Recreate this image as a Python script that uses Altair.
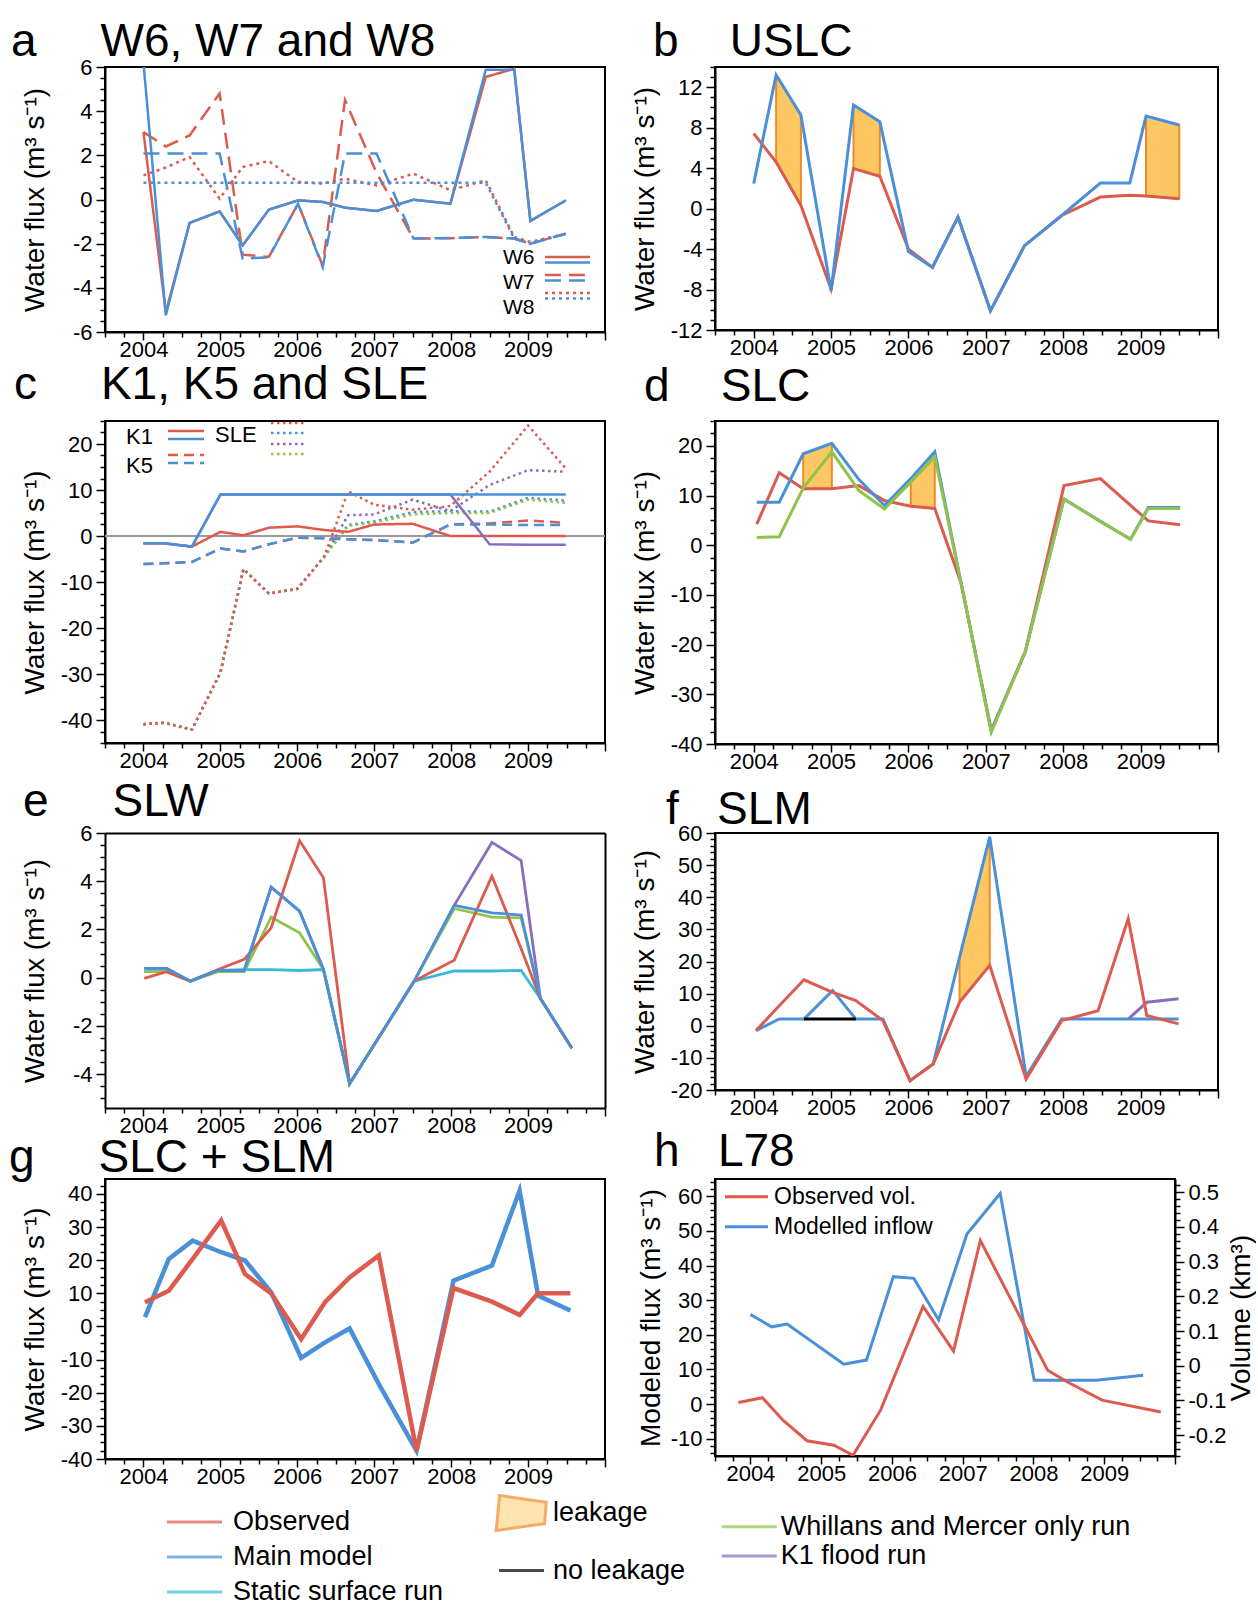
import math
import altair as alt
import pandas as pd

FONT = "Liberation Sans"
RED = "#dd5a4f"
BLUE = "#4a90d8"
GREEN = "#8fc34a"
PURPLE = "#8a6cbf"
CYAN = "#38b9d9"
LEAK_FILL = "#fdc763"
LEAK_STROKE = "#f08a24"
NB = "\u00a0"
WF = "Water flux (m\u00b3 s\u207b\u00b9)"

# ---------------- data ----------------
# a  W6, W7, W8
a_t = [2004.0, 2004.29, 2004.6, 2004.99, 2005.29, 2005.63, 2006.01, 2006.33, 2006.62, 2007.03, 2007.51, 2007.99, 2008.45, 2008.82, 2009.03, 2009.49]
a_w6_obs = [3.05, -5.1, -1.06, -0.54, -2.08, -0.46, -0.04, -0.11, -0.37, -0.52, -0.01, -0.19, 5.55, 5.92, -0.97, -0.04]
a_w6_mod = [6.2, -5.25, -1.06, -0.54, -2.08, -0.46, -0.04, -0.11, -0.37, -0.52, -0.01, -0.19, 5.88, 5.88, -0.97, -0.04]
a_w7_obs = [3.05, 2.4, 2.9, 4.8, -2.5, -2.6, -0.19, -3.0, 4.5, 1.2, -1.77, -1.75, -1.7, -1.77, -2.0, -1.55]
a_w7_mod = [2.08, 2.08, 2.08, 2.08, -2.68, -2.62, -0.19, -3.06, 2.08, 2.08, -1.77, -1.74, -1.7, -1.77, -2.0, -1.55]
a_w8_obs = [1.09, 1.45, 1.92, 0.04, 1.47, 1.74, 0.79, 0.72, 0.94, 0.64, 1.17, 0.42, 0.87, -1.7, -1.92, -1.55]
a_w8_mod = [0.76, 0.76, 0.76, 0.76, 0.76, 0.76, 0.76, 0.76, 0.76, 0.76, 0.76, 0.76, 0.76, -1.77, -2.0, -1.55]
a_sites = ["W6", "W7", "W8"]

# b  USLC
b_t = [2004.0, 2004.29, 2004.61, 2005.0, 2005.29, 2005.63, 2006.0, 2006.31, 2006.64, 2007.06, 2007.5, 2007.98, 2008.48, 2008.86, 2009.07, 2009.5]
b_mod = [2.47, 13.22, 9.25, -8.13, 10.25, 8.59, -4.25, -5.81, -0.84, -10.1, -3.66, -0.68, 2.53, 2.53, 9.15, 8.26]
b_obs = [7.43, 4.6, 0.31, -7.96, 3.96, 3.2, -4.0, -5.81, -0.84, -10.1, -3.66, -0.68, 1.14, 1.31, 1.24, 0.98]
b_leak = [(1, 2), (4, 5), (14, 15)]

# c  K1, K5, SLE
c_t = [2004.0, 2004.27, 2004.63, 2005.0, 2005.3, 2005.63, 2006.0, 2006.35, 2006.66, 2007.0, 2007.5, 2007.99, 2008.5, 2009.0, 2009.49]
c_k1_mod = [-1.6, -1.6, -2.3, 9.0, 9.0, 9.0, 9.0, 9.0, 9.0, 9.0, 9.0, 9.0, 9.0, 9.0, 9.0]
c_k1_obs = [-1.6, -1.6, -2.3, 0.9, 0.15, 1.8, 2.1, 1.3, 0.9, 2.5, 2.65, 0.0, 0.0, 0.0, 0.0]
c_k1_flood = [-1.6, -1.6, -2.3, 9.0, 9.0, 9.0, 9.0, 9.0, 9.0, 9.0, 9.0, 9.0, -1.8, -1.9, -1.9]
c_k5_mod = [-6.1, -5.95, -5.66, -2.72, -3.37, -1.79, -0.36, -0.5, -0.72, -0.86, -1.43, 2.51, 2.51, 2.37, 2.37]
c_k5_obs = [-6.1, -5.95, -5.66, -2.72, -3.37, -1.79, -0.36, -0.5, -0.72, -0.86, -1.43, 2.51, 2.72, 3.37, 2.87]
c_sle_obs = [-40.9, -40.6, -42.1, -29.7, -7.2, -12.5, -11.5, -4.5, 9.7, 6.8, 5.7, 6.5, 14.0, 24.0, 14.7]
c_sle_mod = [-40.9, -40.6, -42.1, -29.7, -7.2, -12.5, -11.5, -4.5, 2.4, 3.2, 5.2, 5.4, 5.3, 8.3, 7.7]
c_sle_wm = [-40.9, -40.6, -42.1, -29.7, -7.2, -12.5, -11.5, -4.5, 2.2, 2.9, 4.7, 5.0, 5.0, 7.9, 7.2]
c_sle_flood = [-40.9, -40.6, -42.1, -29.7, -7.2, -12.5, -11.5, -4.5, 4.5, 4.7, 7.9, 5.4, 11.1, 14.3, 14.0]
c_glaciers = ["K1", "K5"]
c_lake = ["SLE"]

# d  SLC
d_t = [2004.04, 2004.33, 2004.64, 2005.01, 2005.36, 2005.69, 2006.03, 2006.34, 2006.68, 2007.07, 2007.51, 2008.01, 2008.48, 2008.87, 2009.1, 2009.51]
d_mod = [8.65, 8.65, 18.4, 20.5, 13.2, 8.0, 13.4, 18.8, -7.6, -37.3, -21.4, 9.3, 4.8, 1.2, 7.6, 7.6]
d_wm = [1.55, 1.7, 11.5, 18.8, 11.0, 7.3, 12.7, 17.8, -7.6, -37.6, -21.4, 9.3, 4.8, 1.2, 7.4, 7.4]
d_obs = [4.25, 14.6, 11.35, 11.35, 12.0, 9.0, 7.85, 7.4, -7.6, -37.3, -21.4, 12.0, 13.4, 8.0, 4.9, 4.1]
d_leak = [(2, 3), (6, 7)]

# e  SLW
e_t = [2004.01, 2004.3, 2004.61, 2004.97, 2005.31, 2005.66, 2006.03, 2006.34, 2006.68, 2007.52, 2008.04, 2008.53, 2008.91, 2009.16, 2009.57]
e_obs = [-0.03, 0.25, -0.14, 0.34, 0.76, 2.07, 5.68, 4.14, -4.39, -0.14, 0.73, 4.21, 1.2, -0.86, -2.92]
e_mod = [0.39, 0.39, -0.14, 0.3, 0.3, 3.75, 2.76, 0.34, -4.39, -0.14, 3.0, 2.69, 2.6, -0.86, -2.92]
e_wm = [0.25, 0.25, -0.14, 0.25, 0.25, 2.51, 1.86, 0.34, -4.39, -0.14, 2.87, 2.51, 2.48, -0.86, -2.92]
e_static = [0.25, 0.25, -0.14, 0.3, 0.34, 0.34, 0.3, 0.34, -4.39, -0.14, 0.28, 0.28, 0.3, -0.86, -2.92]
e_flood = [0.39, 0.39, -0.14, 0.3, 0.3, 3.75, 2.76, 0.34, -4.39, -0.14, 3.0, 5.61, 4.86, -0.86, -2.92]

# f  SLM
f_t = [2004.03, 2004.33, 2004.65, 2005.02, 2005.32, 2005.67, 2006.02, 2006.32, 2006.66, 2007.05, 2007.52, 2007.98, 2008.45, 2008.84, 2009.08, 2009.49]
f_mod = [-1.5, 2.1, 2.1, 11.0, 2.1, 2.1, -17.1, -11.9, 21.3, 58.8, -15.8, 2.1, 2.1, 2.1, 2.1, 2.1]
f_obs = [-1.5, 6.2, 14.3, 10.4, 7.85, 1.6, -17.1, -11.9, 7.3, 18.8, -16.6, 1.6, 4.7, 33.3, 3.2, 0.57]
f_noleak_t = [2004.65, 2005.02, 2005.32]
f_noleak = [2.1, 2.1, 2.1]
f_flood_t = [2008.84, 2009.08, 2009.49]
f_flood = [2.1, 7.3, 8.4]
f_leak = [(8, 9)]

# g  SLC + SLM
g_t = [2004.02, 2004.33, 2004.64, 2005.01, 2005.32, 2005.66, 2006.05, 2006.36, 2006.68, 2007.06, 2007.55, 2008.03, 2008.53, 2008.89, 2009.13, 2009.55]
g_mod = [2.8, 20.4, 25.9, 22.4, 19.9, 10.3, -9.5, -4.8, -0.6, -17.4, -37.5, 13.8, 18.4, 41.0, 9.3, 4.8]
g_obs = [7.3, 10.8, 20.4, 32.0, 15.8, 10.0, -3.8, 7.3, 14.8, 21.4, -37.5, 11.6, 7.5, 3.5, 10.0, 10.0]

# h  L78
h_mod_t = [2004.0, 2004.3, 2004.52, 2005.32, 2005.64, 2006.02, 2006.31, 2006.66, 2007.06, 2007.53, 2008.01, 2008.48, 2008.89, 2009.55]
h_mod = [25.9, 22.3, 23.1, 11.5, 12.7, 36.8, 36.3, 24.3, 49.1, 60.8, 6.9, 6.9, 6.9, 8.3]
h_obs_t = [2003.83, 2004.17, 2004.46, 2004.8, 2005.18, 2005.45, 2005.84, 2006.44, 2006.87, 2007.25, 2008.2, 2008.48, 2008.97, 2009.8]
h_obs = [-0.106, -0.092, -0.157, -0.216, -0.229, -0.258, -0.128, 0.171, 0.042, 0.361, -0.013, -0.047, -0.099, -0.133]
h_series = ["Observed vol.", "Modelled inflow"]

# bottom legend
LEG1 = ["Observed", "Main model", "Static surface run"]
LEG1_COL = [RED, BLUE, CYAN]
LEG2 = ["leakage", "no leakage"]
LEG3 = ["Whillans and Mercer only run", "K1 flood run"]
LEG3_COL = [GREEN, PURPLE]

TITLES = {
    "a": ("a" + NB * 5 + "W6, W7 and W8", -94, -9.5),
    "b": ("b" + NB * 4 + "USLC", -62, -9.5),
    "c": ("c" + NB * 5 + "K1, K5 and SLE", -91, 1.5),
    "d": ("d" + NB * 4 + "SLC", -71, -1),
    "e": ("e" + NB * 5 + "SLW", -82, -4),
    "f": ("f" + NB * 3 + "SLM", -49, -11.5),
    "g": ("g" + NB * 5 + "SLC + SLM", -96, -7),
    "h": ("h" + NB * 3 + "L78", -61, -4.5),
}

# ---------------- helpers ----------------
XDOM = [2003.5, 2010.0]
X_TICKS = [round(2003.5 + 0.25 * i, 2) for i in range(27)]
LINE_PATH = "M-2,0H2"


def x_axis(offset=0):
    return alt.Axis(values=X_TICKS, title=None, grid=False, offset=offset,
                    labelExpr="(datum.value % 1 == 0 && datum.value >= 2004 && datum.value <= 2009) ? ('' + datum.value) : ''",
                    tickSize={"condition": {"test": "datum.value % 1 == 0", "value": 8}, "value": 5},
                    labelOverlap=False, labelFlush=False, labelPadding=-1)


def x_enc(axis="default"):
    ax = x_axis() if axis == "default" else axis
    return alt.X("t:Q", scale=alt.Scale(domain=XDOM, nice=False, zero=False), axis=ax)


def y_axis(lo, hi, major, minor, title, height, orient="left", title_x=-70):
    vals = []
    k = math.ceil(lo / minor - 1e-9)
    while k * minor <= hi + 1e-9:
        vals.append(round(k * minor, 4))
        k += 1
    test = f"abs(round(datum.value / {major}) * {major} - datum.value) < 1e-6"
    return alt.Axis(values=vals, title=title, orient=orient, grid=False,
                    labelExpr=f"({test}) ? ('' + datum.value) : ''",
                    tickSize={"condition": {"test": test, "value": 9}, "value": 5},
                    labelOverlap=False, labelFlush=False, labelPadding=4,
                    titleX=title_x, titleY=height / 2, titleAngle=270,
                    titleBaseline="middle", titleAlign="center")


def make_y(dom, axis, rng=None):
    def f(field, ax="default"):
        sc = alt.Scale(domain=dom, nice=False, zero=False)
        if rng is not None:
            sc = alt.Scale(domain=dom, nice=False, zero=False, range=rng)
        return alt.Y(f"{field}:Q", scale=sc, axis=axis if ax == "default" else ax)
    return f


def line(t, v, color, sw, yf, dash=None, clip=True):
    kw = dict(color=color, strokeWidth=sw, clip=clip)
    if dash is not None:
        kw["strokeDash"] = dash
    return alt.Chart(pd.DataFrame({"t": t, "v": v})).mark_line(**kw).encode(x=x_enc(), y=yf("v"))


def long_df(t, series):
    rows = []
    for name, vals in series.items():
        for ti, vi in zip(t, vals):
            rows.append({"t": ti, "v": vi, "site": name})
    return pd.DataFrame(rows)


def leak(t, top, bot, segs, yf):
    rows = []
    for k, (i0, i1) in enumerate(segs):
        for i in range(i0, i1 + 1):
            rows.append({"t": t[i], "top": top[i], "bot": bot[i], "seg": k})
    return alt.Chart(pd.DataFrame(rows)).mark_area(
        fill=LEAK_FILL, stroke=LEAK_STROKE, strokeWidth=2, opacity=1, clip=True
    ).encode(x=x_enc(), y=yf("top"), y2="bot:Q", detail="seg:N")


def title_params(key):
    txt, dx, off = TITLES[key]
    return alt.TitleParams(text=txt, anchor="start", frame="group", dx=dx, offset=off,
                           fontSize=46, font=FONT, fontWeight="normal", color="black")


def finish(layers, w, h, key):
    return alt.layer(*layers).properties(width=w, height=h, title=title_params(key))


def dash_lines(df, color, sw, yf, domain, dashes, legend):
    return alt.Chart(df).mark_line(color=color, strokeWidth=sw, clip=True).encode(
        x=x_enc(), y=yf("v"),
        strokeDash=alt.StrokeDash("site:N", scale=alt.Scale(domain=domain, range=dashes), legend=legend))


def label_legend(domain, lx, ly, size, rowpad):
    # legend showing only the names (symbols hidden), placed left of the swatches
    return alt.Chart(alt.Data(values=[])).mark_point().encode(
        strokeDash=alt.StrokeDash("site:N", scale=alt.Scale(domain=domain),
                                  legend=alt.Legend(orient="none", title=None, legendX=lx, legendY=ly,
                                                    symbolSize=1, symbolOpacity=0, symbolOffset=0,
                                                    labelOffset=0, labelFontSize=size, labelFont=FONT,
                                                    labelColor="black", rowPadding=rowpad, padding=0)))


def swatch_legend(lx, ly, color, sym_size, sw, rowpad):
    return alt.Legend(orient="none", title=None, legendX=lx, legendY=ly, symbolType=LINE_PATH,
                      symbolSize=sym_size, symbolStrokeWidth=sw, symbolStrokeColor=color,
                      symbolOffset=0, labelExpr="''", labelFontSize=1, rowPadding=rowpad, padding=0)


LW, RW = 500, 503

# ---------------- panel a ----------------
a_h = 265
a_y = make_y([-6, 6], y_axis(-6, 6, 2, 0.5, WF, a_h))
a_dash = [[1, 0], [16, 8], [3, 4]]
a_red = dash_lines(long_df(a_t, {"W6": a_w6_obs, "W7": a_w7_obs, "W8": a_w8_obs}), RED, 2.5, a_y,
                   a_sites, a_dash, swatch_legend(450, 177.5, RED, 506, 2.5, 0))
a_blue = dash_lines(long_df(a_t, {"W6": a_w6_mod, "W7": a_w7_mod, "W8": a_w8_mod}), BLUE, 2.5, a_y,
                    a_sites, a_dash, swatch_legend(450, 183, BLUE, 506, 2.5, 0))
a_names = label_legend(a_sites, 377, 180.5, 21, 3)
pa = finish([a_red, a_blue, a_names], LW, a_h, "a").resolve_scale(strokeDash="independent")

# ---------------- panel b ----------------
b_h = 263
b_y = make_y([-12, 14], y_axis(-12, 14, 4, 1, WF, b_h))
pb = finish([leak(b_t, b_mod, b_obs, b_leak, b_y),
             line(b_t, b_obs, RED, 3, b_y),
             line(b_t, b_mod, BLUE, 3, b_y)], RW, b_h, "b")

# ---------------- panel c ----------------
c_h = 322
c_y = make_y([-45, 25], y_axis(-45, 25, 10, 2.5, WF, c_h))
DOT = [[2.5, 3.5]]
GL_DASH = [[1, 0], [10, 6]]
zero = alt.Chart(pd.DataFrame({"v": [0]})).mark_rule(color="#9a9a9a", strokeWidth=2).encode(y=c_y("v"))
c_layers = [
    zero,
    dash_lines(long_df(c_t, {"SLE": c_sle_flood}), PURPLE, 2.5, c_y, c_lake, DOT,
               swatch_legend(173.5, 12.5, PURPLE, 324, 2.5, 0)),
    dash_lines(long_df(c_t, {"SLE": c_sle_mod}), BLUE, 2.5, c_y, c_lake, DOT,
               swatch_legend(173.5, 1.5, BLUE, 324, 2.5, 0)),
    dash_lines(long_df(c_t, {"SLE": c_sle_wm}), GREEN, 2.5, c_y, c_lake, DOT,
               swatch_legend(173.5, 22.5, GREEN, 324, 2.5, 0)),
    dash_lines(long_df(c_t, {"SLE": c_sle_obs}), RED, 2.5, c_y, c_lake, DOT,
               swatch_legend(173.5, -8.5, RED, 324, 2.5, 0)),
    dash_lines(long_df(c_t, {"K1": c_k1_obs, "K5": c_k5_obs}), RED, 2.5, c_y, c_glaciers, GL_DASH,
               swatch_legend(70.5, -0.5, RED, 324, 2.5, 8)),
    line(c_t, c_k1_flood, PURPLE, 2.5, c_y),
    dash_lines(long_df(c_t, {"K1": c_k1_mod, "K5": c_k5_mod}), BLUE, 2.5, c_y, c_glaciers, GL_DASH,
               swatch_legend(70.5, 7.5, BLUE, 324, 2.5, 8)),
    label_legend(c_glaciers, -1, 5, 22, 7),
    label_legend(c_lake, 88, 3, 22, 7),
]
pc = finish(c_layers, LW, c_h, "c").resolve_scale(strokeDash="independent")

# ---------------- panel d ----------------
d_h = 323
d_y = make_y([-40, 25], y_axis(-40, 25, 10, 2.5, WF, d_h))
pd_ = finish([leak(d_t, d_mod, d_obs, d_leak, d_y),
              line(d_t, d_obs, RED, 3, d_y),
              line(d_t, d_mod, BLUE, 3, d_y),
              line(d_t, d_wm, GREEN, 3, d_y)], RW, d_h, "d")

# ---------------- panel e (plot drawn 275 px tall inside a 257 px grid cell) ----------------
e_cell = 257
e_plot = 275
e_y = make_y([-5.4, 6], y_axis(-5.4, 6, 2, 0.5, WF, e_plot), rng=[e_plot, 0])
frame_axis_x = alt.Axis(orient="top", labels=False, ticks=False, domain=True, title=None, grid=False)
frame_axis_y = alt.Axis(orient="right", labels=False, ticks=False, domain=True, title=None, grid=False)


def e_line(v, color, first=False):
    enc_x = x_enc(x_axis(offset=e_plot - e_cell)) if first else x_enc(None)
    enc_y = e_y("v") if first else e_y("v", None)
    return alt.Chart(pd.DataFrame({"t": e_t, "v": v})).mark_line(
        color=color, strokeWidth=2.8, clip=False).encode(x=enc_x, y=enc_y)


e_frame = alt.Chart(alt.Data(values=[])).mark_point().encode(
    x=x_enc(frame_axis_x), y=e_y("v", frame_axis_y))
pe = alt.layer(
    e_line(e_flood, PURPLE, first=True),
    e_line(e_static, CYAN),
    e_line(e_wm, GREEN),
    e_line(e_obs, RED),
    e_line(e_mod, BLUE),
    e_frame,
).resolve_axis(x="independent", y="independent").properties(
    width=LW, height=e_cell, title=title_params("e"),
    view=alt.ViewBackground(stroke="transparent"))

# ---------------- panel f ----------------
f_h = 257
f_y = make_y([-20, 60], y_axis(-20, 60, 10, 2, WF, f_h))
pf = finish([leak(f_t, f_mod, f_obs, f_leak, f_y),
             line(f_t, f_mod, BLUE, 3, f_y),
             line(f_noleak_t, f_noleak, "black", 3, f_y),
             line(f_flood_t, f_flood, PURPLE, 3, f_y),
             line(f_t, f_obs, RED, 3, f_y)], RW, f_h, "f")

# ---------------- panel g (with bottom legend) ----------------
g_h = 280
g_y = make_y([-40, 44.5], y_axis(-40, 44.5, 10, 2.5, WF, g_h))
leg_base = dict(orient="none", title=None, labelFontSize=27, labelFont=FONT, labelColor="black",
                labelLimit=600, padding=0, symbolStrokeWidth=3)
empty = alt.Data(values=[])
leg1 = alt.Chart(empty).mark_point(shape=LINE_PATH, filled=False, strokeWidth=3, size=756).encode(
    stroke=alt.Stroke("entry:N", scale=alt.Scale(domain=LEG1, range=LEG1_COL),
                      legend=alt.Legend(legendX=62, legendY=327.5, symbolType=LINE_PATH, symbolSize=756,
                                        symbolOffset=12, labelOffset=23, rowPadding=6, **leg_base)))
POLY = "M-1.95,-1.55L2.2,-0.95L2.05,0.95L-2.25,1.55Z"
leg2_kw = dict(legendX=391, legendY=320.5, symbolSize=506, symbolOffset=12, labelOffset=18,
               rowPadding=19.5, **leg_base)
leg2 = alt.Chart(empty).mark_point(filled=False, strokeWidth=3, size=506).encode(
    shape=alt.Shape("entry:N", scale=alt.Scale(domain=LEG2, range=[POLY, LINE_PATH]),
                    legend=alt.Legend(**leg2_kw)),
    stroke=alt.Stroke("entry:N", scale=alt.Scale(domain=LEG2, range=[LEAK_STROKE, "black"]),
                      legend=alt.Legend(**leg2_kw)),
    fill=alt.Fill("entry:N", scale=alt.Scale(domain=LEG2, range=[LEAK_FILL, "transparent"]),
                  legend=alt.Legend(**leg2_kw)))
leg3 = alt.Chart(empty).mark_point(shape=LINE_PATH, filled=False, strokeWidth=3, size=756).encode(
    stroke=alt.Stroke("entry:N", scale=alt.Scale(domain=LEG3, range=LEG3_COL),
                      legend=alt.Legend(legendX=616.7, legendY=332.2, symbolType=LINE_PATH, symbolSize=756,
                                        symbolOffset=12, labelOffset=16, rowPadding=0.3, **leg_base)))
pg = finish([line(g_t, g_mod, BLUE, 4.5, g_y),
             line(g_t, g_obs, RED, 4.5, g_y),
             leg1, leg2, leg3], LW, g_h, "g").resolve_scale(
    stroke="independent", shape="independent", fill="independent")

# ---------------- panel h ----------------
h_h = 277
h_w = 460
h_left = make_y([-15, 65], y_axis(-15, 65, 10, 2, "Modeled flux (m\u00b3 s\u207b\u00b9)", h_h, title_x=-64))
h_right = make_y([-0.26, 0.538], y_axis(-0.26, 0.538, 0.1, 0.02, "Volume (km\u00b3)", h_h,
                                         orient="right", title_x=66))
h_color = alt.Scale(domain=h_series, range=[RED, BLUE])
h_leg = alt.Legend(orient="none", title=None, legendX=10, legendY=5.2, symbolType=LINE_PATH,
                   symbolSize=462, symbolStrokeWidth=3, symbolOffset=9, labelOffset=15,
                   labelFontSize=23, labelFont=FONT, labelColor="black", rowPadding=5, padding=0)
h_blue = alt.Chart(pd.DataFrame({"t": h_mod_t, "v": h_mod, "series": "Modelled inflow"})).mark_line(
    strokeWidth=3, clip=True).encode(x=x_enc(), y=h_left("v"),
                                     color=alt.Color("series:N", scale=h_color, legend=h_leg))
h_red = alt.Chart(pd.DataFrame({"t": h_obs_t, "v": h_obs, "series": "Observed vol."})).mark_line(
    strokeWidth=3, clip=True).encode(x=x_enc(), y=h_right("v"),
                                     color=alt.Color("series:N", scale=h_color, legend=h_leg))
ph = finish([h_blue, h_red], h_w, h_h, "h").resolve_scale(y="independent")

chart = alt.concat(pa, pb, pc, pd_, pe, pf, pg, ph, columns=2,
                   spacing={"row": 89, "column": 110}, bounds="flush", align="each").resolve_scale(
    color="independent", strokeDash="independent", stroke="independent",
    shape="independent", fill="independent"
).properties(
    padding={"left": 8, "top": 17, "right": 0, "bottom": 0}
).configure_view(stroke="black", strokeWidth=2).configure_axis(
    domainColor="black", domainWidth=2, tickColor="black", tickWidth=1.5,
    labelColor="black", titleColor="black", labelFontSize=22, titleFontSize=28,
    titleFontWeight="normal", labelFont=FONT, titleFont=FONT
).configure_legend(labelFont=FONT, labelColor="black").configure_title(font=FONT, color="black")

chart.save("out.html", embed_options={"renderer": "svg", "actions": False})
